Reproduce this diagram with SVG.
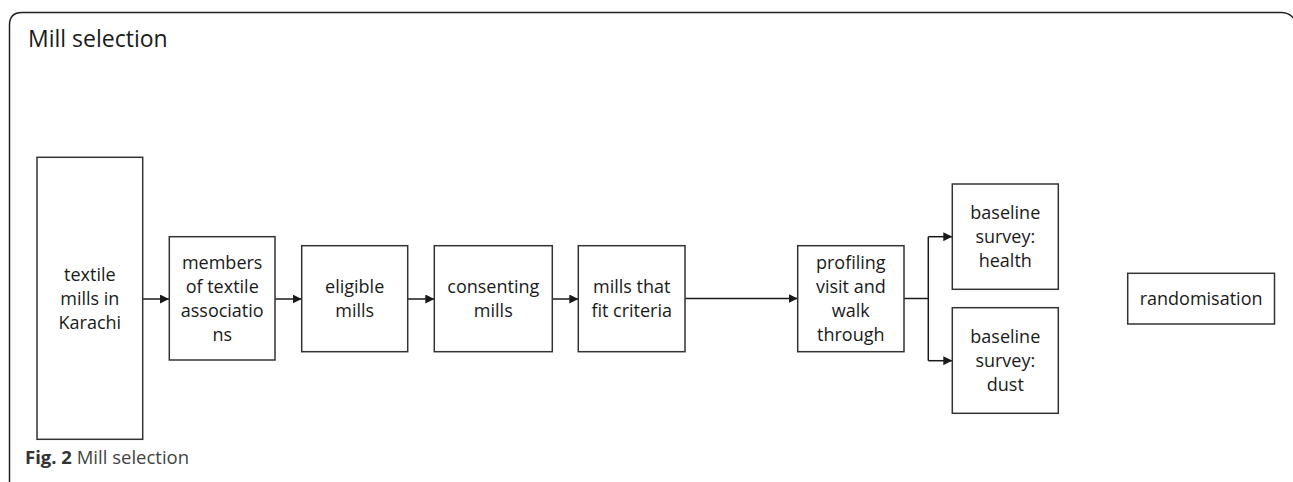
<svg xmlns="http://www.w3.org/2000/svg" width="1293" height="482" viewBox="0 0 1293 482">
<style>
.box{fill:#fff;stroke:#333;stroke-width:1.5}
.t{font-family:"Open Sans","Noto Sans",sans-serif;font-size:18px;fill:#1a1a1a;text-anchor:middle}
.c{stroke:#1a1a1a;stroke-width:1.5;fill:none}
.frame{stroke:#222;stroke-width:1.5;fill:none}
</style>
<defs>
<marker id="ah" markerUnits="userSpaceOnUse" markerWidth="9" markerHeight="9" refX="9" refY="4.5" orient="auto">
<path d="M0,0 L9,4.5 L0,9 z" fill="#1a1a1a"/>
</marker>
</defs>
<rect width="1293" height="482" fill="#fff"/>
<path class="frame" d="M9.5 482 V25 Q9.5 12.5 22 12.5 H1281 Q1290 12.5 1295 20"/>
<text x="28" y="47" font-family="Open Sans, Noto Sans, sans-serif" font-size="23" fill="#1a1a1a">Mill selection</text>
<text x="25" y="463.5" font-family="Open Sans, Noto Sans, sans-serif" font-size="18.5" fill="#333"><tspan font-weight="bold">Fig. 2</tspan> <tspan fill="#444">Mill selection</tspan></text>

<g id="connectors">
<line class="c" x1="142.7" y1="299" x2="169" y2="299" marker-end="url(#ah)"/>
<line class="c" x1="275" y1="299" x2="301.7" y2="299" marker-end="url(#ah)"/>
<line class="c" x1="407.7" y1="299" x2="434.3" y2="299" marker-end="url(#ah)"/>
<line class="c" x1="552.5" y1="299" x2="578.3" y2="299" marker-end="url(#ah)"/>
<line class="c" x1="685" y1="298.5" x2="797.7" y2="298.5" marker-end="url(#ah)"/>
<path class="c" d="M904 298.5 H928.3"/>
<path class="c" d="M928.3 236.7 V360.7"/>
<path class="c" d="M928.3 236.7 H952.3" marker-end="url(#ah)"/>
<path class="c" d="M928.3 360.7 H952.3" marker-end="url(#ah)"/>
</g>

<g id="n1">
<rect class="box" x="37" y="157.3" width="105.7" height="282"/>
<text class="t" x="89.8" y="280.5">textile</text>
<text class="t" x="89.8" y="304.5">mills in</text>
<text class="t" x="89.8" y="328.5">Karachi</text>
</g>
<g id="n2">
<rect class="box" x="169.3" y="236.7" width="105.7" height="123.3"/>
<text class="t" x="222.2" y="269">members</text>
<text class="t" x="222.2" y="293">of textile</text>
<text class="t" x="222.2" y="317">associatio</text>
<text class="t" x="222.2" y="341">ns</text>
</g>
<g id="n3">
<rect class="box" x="301.7" y="245.7" width="106" height="106"/>
<text class="t" x="354.7" y="293">eligible</text>
<text class="t" x="354.7" y="317">mills</text>
</g>
<g id="n4">
<rect class="box" x="434.3" y="245.7" width="118" height="106"/>
<text class="t" x="493.3" y="293">consenting</text>
<text class="t" x="493.3" y="317">mills</text>
</g>
<g id="n5">
<rect class="box" x="578.3" y="245.7" width="106.7" height="106"/>
<text class="t" x="631.7" y="293">mills that</text>
<text class="t" x="631.7" y="317">fit criteria</text>
</g>
<g id="n6">
<rect class="box" x="797.7" y="245.7" width="106.3" height="106"/>
<text class="t" x="850.8" y="269">profiling</text>
<text class="t" x="850.8" y="293">visit and</text>
<text class="t" x="850.8" y="317">walk</text>
<text class="t" x="850.8" y="341">through</text>
</g>
<g id="n7">
<rect class="box" x="952.3" y="184" width="106" height="105.3"/>
<text class="t" x="1005.3" y="219.3">baseline</text>
<text class="t" x="1005.3" y="243.3">survey:</text>
<text class="t" x="1005.3" y="267.3">health</text>
</g>
<g id="n8">
<rect class="box" x="952.3" y="307.7" width="106" height="105.6"/>
<text class="t" x="1005.3" y="343">baseline</text>
<text class="t" x="1005.3" y="367">survey:</text>
<text class="t" x="1005.3" y="391">dust</text>
</g>
<g id="n9">
<rect class="box" x="1127.7" y="273.3" width="146.8" height="50.7"/>
<text class="t" x="1201.1" y="305">randomisation</text>
</g>
</svg>
